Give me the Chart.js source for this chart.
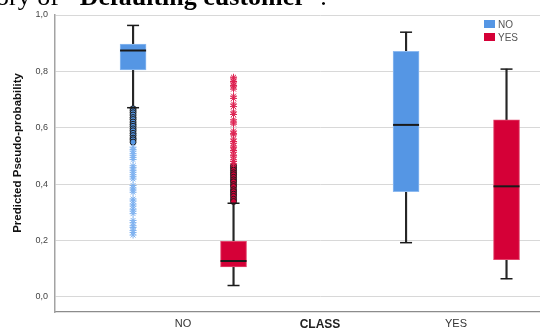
<!DOCTYPE html>
<html>
<head>
<meta charset="utf-8">
<script src="https://cdn.jsdelivr.net/npm/chart.js@4.4.1/dist/chart.umd.min.js"></script>
<style>
  html, body { margin: 0; padding: 0; background: #fff; overflow: hidden; width: 540px; height: 331px; }
  #wrap { position: absolute; left: 0; top: 0; width: 585px; height: 331px; }
  #caption { position: absolute; left: -4px; top: -16px; font: 26px/26px "Liberation Serif", "Times New Roman", serif; color: #000; white-space: nowrap; z-index: 2; }
  #legend { position: absolute; left: 484px; top: 18px; font: 10px "Liberation Sans", Arial, sans-serif; color: #555; z-index: 2; }
  .item { display: flex; align-items: center; height: 12.7px; }
  .swatch { width: 11px; height: 8px; margin-right: 3px; }
</style>
</head>
<body>
<div id="caption">ory of <b>"Defaulting customer"</b>.</div>
<div id="wrap"><canvas id="chart"></canvas></div>
<div id="legend"></div>
<script>
const categories = ['NO', 'YES'];
const seriesNames = ['NO', 'YES'];
const yTicks = [0, 0.2, 0.4, 0.6, 0.8, 1.0];

// box statistics, one value per category (NO, YES)
const noLow = [0.671, 0.192];
const noQ1 = [0.805, 0.373];
const noMedian = [0.874, 0.610];
const noQ3 = [0.897, 0.871];
const noHigh = [0.963, 0.939];

const yesLow = [0.040, 0.064];
const yesQ1 = [0.106, 0.132];
const yesMedian = [0.127, 0.392];
const yesQ3 = [0.197, 0.628];
const yesHigh = [0.332, 0.808];

// outliers, only in category NO
const noCircles = [0.667, 0.660, 0.653, 0.645, 0.636, 0.629, 0.620, 0.612, 0.605, 0.596, 0.589, 0.580, 0.572, 0.563, 0.557, 0.549];
const noStars = [0.531, 0.523, 0.517, 0.508, 0.502, 0.494, 0.487, 0.465, 0.458, 0.449, 0.442, 0.433, 0.426, 0.418,
  0.395, 0.386, 0.379, 0.371, 0.347, 0.340, 0.329, 0.322, 0.311, 0.304, 0.295, 0.271, 0.263, 0.252, 0.246, 0.235, 0.228, 0.219];
const yesCircles = [0.465, 0.458, 0.449, 0.440, 0.433, 0.424, 0.415, 0.408, 0.398, 0.391, 0.380, 0.373, 0.364, 0.356, 0.346, 0.338];
const yesStars = [0.779, 0.773, 0.764, 0.759, 0.750, 0.745, 0.737, 0.712, 0.704, 0.684, 0.675, 0.656, 0.647, 0.628, 0.620, 0.613,
  0.588, 0.580, 0.575, 0.560, 0.551, 0.545, 0.535, 0.529, 0.519, 0.513, 0.502, 0.496, 0.486, 0.480, 0.472];

const colors = { NO: '#5596e4', YES: '#d50037' };
const edges = { NO: '#8dbaf0', YES: '#e2456c' };
const starColors = { NO: '#7fb2f0', YES: '#dd2352' };
const shift = { NO: -0.183, YES: 0.185 };

Chart.defaults.font.family = '"Liberation Sans", Arial, sans-serif';

function xs(name) {
  return categories.map((c, i) => i + 1 + shift[name]);
}

function boxSet(name, q1, q3) {
  return {
    type: 'bar', label: name,
    data: xs(name).map((x, i) => ({ x, y: [q1[i], q3[i]] })),
    backgroundColor: colors[name], borderColor: edges[name], borderWidth: 1, borderSkipped: false,
    grouped: false, barThickness: 26, order: 2
  };
}

function stemSet(name, low, high) {
  return {
    type: 'bar', label: name + ' whisker',
    data: xs(name).map((x, i) => ({ x, y: [low[i], high[i]] })),
    backgroundColor: '#262626', grouped: false, barThickness: 1.5, order: 3
  };
}

function lineMarks(name, values, radius, width, label) {
  return {
    type: 'scatter', label,
    data: xs(name).map((x, i) => ({ x, y: values[i] })),
    pointStyle: 'line', pointRadius: radius, borderColor: '#1a1a1a', borderWidth: width, order: 0
  };
}

function outlierSet(name, values, style) {
  const x = 1 + shift[name];
  const circle = style === 'circle';
  return {
    type: 'scatter', label: name + ' ' + style,
    data: values.map(v => ({ x, y: v })),
    pointStyle: style, pointRadius: circle ? 3 : 3.5,
    backgroundColor: circle ? colors[name] : starColors[name],
    borderColor: circle ? '#1e1e1e' : starColors[name],
    borderWidth: 1, order: 1
  };
}

const yTitle = {
  id: 'yTitle',
  afterDraw(chart) {
    const ctx = chart.ctx;
    ctx.save();
    ctx.translate(18, 153);
    ctx.rotate(-Math.PI / 2);
    ctx.font = 'bold 11.5px "Liberation Sans", Arial, sans-serif';
    ctx.fillStyle = '#111';
    ctx.textAlign = 'center';
    ctx.textBaseline = 'middle';
    ctx.fillText('Predicted Pseudo-probability', 0, 0);
    ctx.restore();
  }
};

new Chart(document.getElementById('chart'), {
  type: 'bar',
  data: {
    datasets: [
      boxSet('NO', noQ1, noQ3),
      boxSet('YES', yesQ1, yesQ3),
      stemSet('NO', noLow, noHigh),
      stemSet('YES', yesLow, yesHigh),
      outlierSet('NO', noStars, 'star'),
      outlierSet('YES', yesStars, 'star'),
      outlierSet('NO', noCircles, 'circle'),
      outlierSet('YES', yesCircles, 'circle'),
      lineMarks('NO', noLow, 6, 1.5, 'NO low'),
      lineMarks('NO', noHigh, 6, 1.5, 'NO high'),
      lineMarks('YES', yesLow, 6, 1.5, 'YES low'),
      lineMarks('YES', yesHigh, 6, 1.5, 'YES high'),
      lineMarks('NO', noMedian, 13, 2, 'NO median'),
      lineMarks('YES', yesMedian, 13, 2, 'YES median')
    ]
  },
  options: {
    responsive: true,
    maintainAspectRatio: false,
    animation: false,
    layout: { autoPadding: false, padding: { top: 15, left: 0, right: 0, bottom: 0 } },
    plugins: { legend: { display: false }, tooltip: { enabled: false } },
    scales: {
      x: {
        type: 'linear', min: 0.531, max: 2.4725, offset: false,
        afterBuildTicks: s => { s.ticks = categories.map((c, i) => ({ value: i + 1 })); },
        afterFit: s => { s.height = 19; s.paddingLeft = 0; s.paddingRight = 0; },
        grid: { color: 'transparent', drawTicks: false, offset: false },
        border: { color: '#8c8c8c', width: 1.2 },
        ticks: { padding: 5, color: '#333', font: { size: 11 }, maxRotation: 0, autoSkip: false,
          callback: v => categories[v - 1] },
        title: { display: true, text: 'CLASS', color: '#222', font: { size: 12, weight: 'bold', lineHeight: 1 },
          padding: { top: 0, bottom: 0 } }
      },
      y: {
        min: -0.054, max: 1.0,
        afterBuildTicks: s => { s.ticks = yTicks.map(v => ({ value: v })); },
        afterFit: s => { s.width = 55; },
        grid: { color: '#d8d8d8', drawTicks: false },
        border: { color: '#a3a3a3', width: 1.5 },
        ticks: { padding: 7, color: '#444', font: { size: 9 },
          callback: v => v.toFixed(1).replace('.', ',') }
      }
    }
  },
  plugins: [yTitle]
});

const legend = document.getElementById('legend');
seriesNames.forEach(name => {
  const item = document.createElement('div');
  item.className = 'item';
  item.innerHTML = `<span class="swatch" style="background:${colors[name]}"></span>${name}`;
  legend.appendChild(item);
});
</script>
</body>
</html>
